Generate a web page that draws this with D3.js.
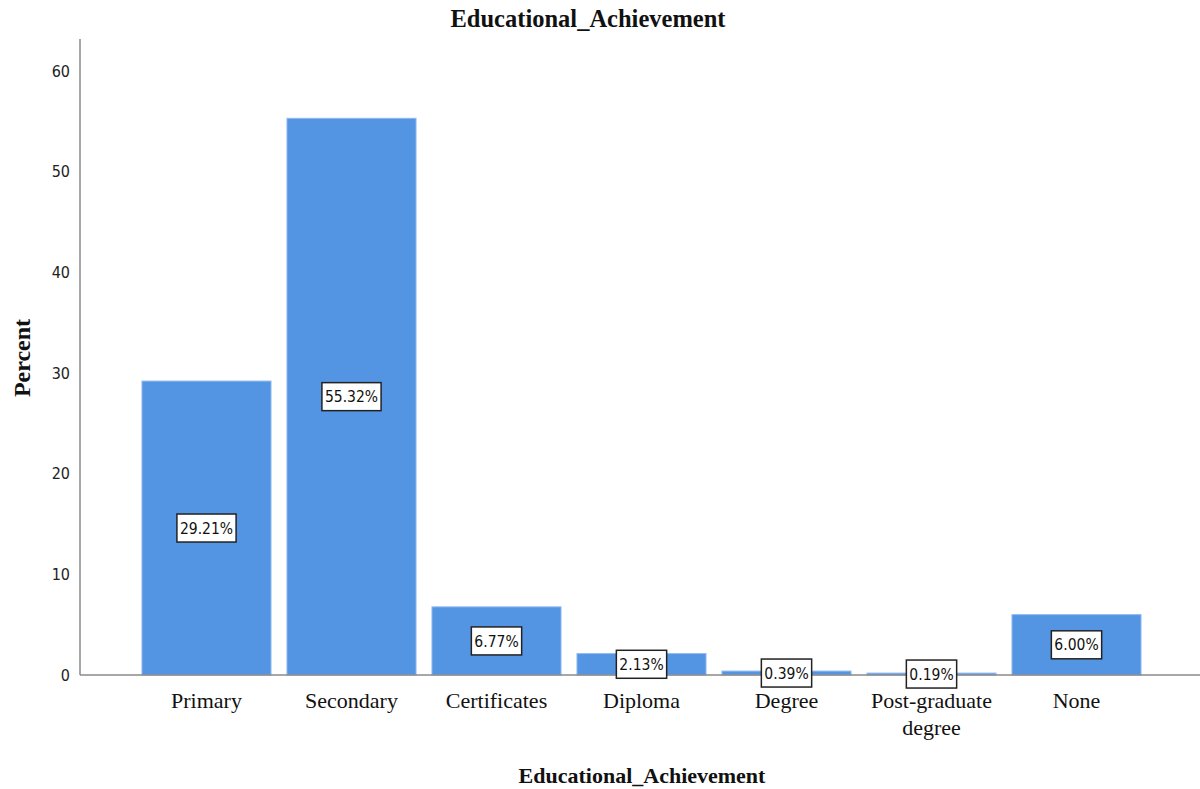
<!DOCTYPE html>
<html>
<head>
<meta charset="utf-8">
<script src="https://cdn.jsdelivr.net/npm/d3@7/dist/d3.min.js"></script>
<style>
  html, body { margin: 0; padding: 0; background: #fff; }
  svg { display: block; }
</style>
</head>
<body>
<svg id="chart" width="1200" height="789"></svg>
<script>
// Educational attainment distribution (percent of respondents)
const categories = ["Primary", "Secondary", "Certificates", "Diploma", "Degree", "Post-graduate degree", "None"];
const categoryLines = [["Primary"], ["Secondary"], ["Certificates"], ["Diploma"], ["Degree"], ["Post-graduate", "degree"], ["None"]];
const percents = [29.21, 55.32, 6.77, 2.13, 0.39, 0.19, 6.00];
const yTicks = [0, 10, 20, 30, 40, 50, 60];

const svg = d3.select("#chart");
const W = 1200, H = 789;
const axisX = 80, axisBottom = 675, axisTop = 39;
const serif = "'Liberation Serif', 'Times New Roman', serif";

const x = d3.scaleBand()
  .domain(categories)
  .range([134, 1149])
  .paddingInner(0.11)
  .paddingOuter(0.055);

const y = d3.scaleLinear()
  .domain([0, 63.2])
  .range([axisBottom, axisTop]);

// Title
svg.append("text")
  .attr("x", 588).attr("y", 27)
  .attr("text-anchor", "middle")
  .style("font-family", serif)
  .style("font-weight", "bold")
  .style("font-size", "24.5px")
  .attr("fill", "#111")
  .text("Educational_Achievement");

// Bars
svg.append("g").selectAll("rect")
  .data(categories)
  .join("rect")
  .attr("x", d => x(d))
  .attr("width", x.bandwidth())
  .attr("y", (d, i) => y(percents[i]))
  .attr("height", (d, i) => y(0) - y(percents[i]))
  .attr("fill", "#5495e3")
  .attr("stroke", "#8fbaf0")
  .attr("stroke-width", 1);

// Y axis
const yAxis = svg.append("g")
  .attr("transform", `translate(${axisX},0)`)
  .call(d3.axisLeft(y).tickValues(yTicks).tickSize(0).tickPadding(10));
yAxis.select(".domain").attr("stroke", "#8a8a8a").attr("stroke-width", 1.5)
  .attr("d", `M0,${axisTop}V${axisBottom}`);
yAxis.selectAll("text")
  .style("font-family", "'DejaVu Sans Condensed', 'DejaVu Sans', sans-serif")
  .style("font-size", "16px")
  .attr("fill", "#222");

// X axis baseline
const xAxis = svg.append("g")
  .attr("transform", `translate(0,${axisBottom})`)
  .call(d3.axisBottom(x).tickSize(0).tickFormat(""));
xAxis.select(".domain").attr("stroke", "#8a8a8a").attr("stroke-width", 1.5)
  .attr("d", `M${axisX},0H${W}`);

// Category labels (serif, possibly two lines)
const catG = svg.append("g");
categories.forEach((c, i) => {
  const cx = x(c) + x.bandwidth() / 2;
  const t = catG.append("text")
    .attr("x", cx)
    .attr("y", 708)
    .attr("text-anchor", "middle")
    .style("font-family", serif)
    .style("font-size", "22px")
    .attr("fill", "#111");
  categoryLines[i].forEach((line, k) => {
    t.append("tspan")
      .attr("x", cx)
      .attr("dy", k === 0 ? 0 : 27)
      .text(line);
  });
});

// Value labels in boxes at the middle of each bar
const labG = svg.append("g");
categories.forEach((c, i) => {
  const cx = x(c) + x.bandwidth() / 2;
  const cy = (y(percents[i]) + y(0)) / 2;
  const g = labG.append("g").attr("transform", `translate(${cx},${cy})`);
  const txt = g.append("text")
    .attr("text-anchor", "middle")
    .attr("dy", "0.36em")
    .style("font-family", "'DejaVu Sans Condensed', 'DejaVu Sans', sans-serif")
    .style("font-size", "15.5px")
    .attr("fill", "#111")
    .text(percents[i].toFixed(2) + "%");
  const bb = txt.node().getBBox();
  g.insert("rect", "text")
    .attr("x", bb.x - 3)
    .attr("y", -14)
    .attr("width", bb.width + 6)
    .attr("height", 28)
    .attr("fill", "#fff")
    .attr("stroke", "#222")
    .attr("stroke-width", 1.5);
});

// Axis titles
svg.append("text")
  .attr("x", 642).attr("y", 783)
  .attr("text-anchor", "middle")
  .style("font-family", serif)
  .style("font-weight", "bold")
  .style("font-size", "22px")
  .attr("fill", "#111")
  .text("Educational_Achievement");

svg.append("text")
  .attr("transform", "translate(30,358) rotate(-90)")
  .attr("text-anchor", "middle")
  .style("font-family", serif)
  .style("font-weight", "bold")
  .style("font-size", "24px")
  .attr("fill", "#111")
  .text("Percent");
</script>
</body>
</html>
